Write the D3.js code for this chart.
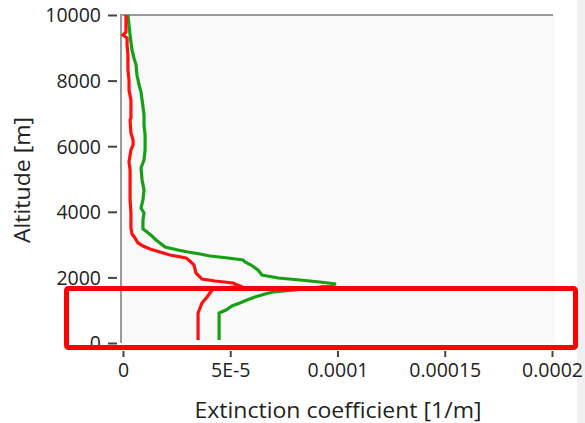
<!DOCTYPE html>
<html>
<head>
<meta charset="utf-8">
<script src="https://cdn.jsdelivr.net/npm/d3@7"></script>
<style>
  body { margin: 0; background: #fff; }
  svg { display: block; }
  text { font-family: "Open Sans", "Noto Sans", sans-serif; fill: #222; }
</style>
</head>
<body>
<svg id="chart" width="585" height="423"></svg>
<script>
// altitude [m] and extinction coefficient [1/m]
var redAlt = [90, 915, 1220, 1402, 1616, 1738, 1829, 1890, 1951, 2012, 2134, 2378, 2500, 2592, 2683,
    2775, 2866, 2958, 3049, 3201, 3323, 3506, 3964, 4360, 4817, 5275, 5519, 5884, 6037, 6189, 6403,
    6799, 6860, 7409, 7714, 8019, 8324, 8781, 9086, 9299, 9391, 9482, 10000];
var redExt = [3.50e-5, 3.50e-5, 3.68e-5, 3.92e-5, 4.15e-5, 5.45e-5, 5.13e-5, 4.29e-5, 3.68e-5, 3.59e-5,
    3.40e-5, 3.31e-5, 3.12e-5, 2.94e-5, 2.19e-5, 1.72e-5, 1.26e-5, 0.93e-5, 0.70e-5, 0.56e-5, 0.42e-5,
    0.37e-5, 0.37e-5, 0.33e-5, 0.33e-5, 0.33e-5, 0.28e-5, 0.37e-5, 0.47e-5, 0.47e-5, 0.37e-5, 0.33e-5,
    0.37e-5, 0.37e-5, 0.28e-5, 0.28e-5, 0.23e-5, 0.23e-5, 0.19e-5, 0.19e-5, 0.0, 0.14e-5, 0.14e-5];

var greenAlt = [90, 915, 1006, 1128, 1220, 1311, 1402, 1494, 1555, 1616, 1707, 1799, 1860, 1921, 1982,
    2073, 2226, 2378, 2470, 2531, 2592, 2653, 2714, 2775, 2836, 2927, 3049, 3140, 3262, 3384, 3476,
    3750, 3964, 4116, 4360, 4665, 4970, 5336, 5580, 5884, 6342, 6647, 6952, 7409, 7653, 7866, 8171,
    8476, 8690, 8934, 9178, 9391, 9696, 10000];
var greenExt = [4.48e-5, 4.48e-5, 4.80e-5, 5.08e-5, 5.45e-5, 5.78e-5, 6.15e-5, 6.62e-5, 6.99e-5, 8.02e-5,
    9.18e-5, 9.93e-5, 9.18e-5, 8.25e-5, 7.23e-5, 6.48e-5, 6.29e-5, 5.97e-5, 5.69e-5, 5.59e-5, 4.90e-5,
    4.06e-5, 3.59e-5, 3.03e-5, 2.56e-5, 1.96e-5, 1.72e-5, 1.54e-5, 1.35e-5, 1.12e-5, 0.93e-5, 0.93e-5,
    0.98e-5, 0.84e-5, 0.93e-5, 0.98e-5, 0.89e-5, 0.84e-5, 0.98e-5, 1.03e-5, 1.03e-5, 0.98e-5, 0.98e-5,
    0.89e-5, 0.84e-5, 0.75e-5, 0.65e-5, 0.61e-5, 0.51e-5, 0.42e-5, 0.37e-5, 0.33e-5, 0.28e-5, 0.23e-5];

var xTicks = [0, 5e-5, 1e-4, 1.5e-4, 2e-4];
var xTickLabels = ["0", "5E-5", "0.0001", "0.00015", "0.0002"];
var yTicks = [0, 2000, 4000, 6000, 8000, 10000];

var svg = d3.select('#chart');

var x = d3.scaleLinear().domain([0, 2e-4]).range([123, 552]),
    y = d3.scaleLinear().domain([0, 10000]).range([343, 15]);

// plot area
svg.append('rect')
    .attr('x', 121).attr('y', 15)
    .attr('width', 434).attr('height', 328)
    .attr('fill', '#f9f9f9');
// window edge on the right
svg.append('rect')
    .attr('x', 577).attr('y', 0)
    .attr('width', 8).attr('height', 423)
    .attr('fill', '#f0f0f0');

svg.append('line')
    .attr('x1', 121).attr('x2', 553).attr('y1', 15).attr('y2', 15)
    .attr('stroke', '#9a9a9a').attr('stroke-width', 2);
svg.append('line')
    .attr('x1', 121).attr('x2', 121).attr('y1', 14).attr('y2', 343)
    .attr('stroke', '#9a9a9a').attr('stroke-width', 2);

// y axis (ticks + labels, no domain line)
var yAxis = svg.append('g')
    .attr('transform', 'translate(117,0)')
    .call(d3.axisLeft(y).tickValues(yTicks).tickSize(9).tickPadding(7).tickFormat(d3.format('d')));
yAxis.select('.domain').remove();
yAxis.selectAll('.tick line').attr('stroke', '#444').attr('stroke-width', 2);
yAxis.selectAll('.tick text').attr('font-size', 19.5).attr('dy', '0.35em')
    .style('font-family', '"Open Sans", sans-serif').style('fill', '#222');

// x axis
var xAxis = svg.append('g')
    .attr('transform', 'translate(0,351)')
    .call(d3.axisBottom(x).tickValues(xTicks).tickSize(6).tickPadding(6)
        .tickFormat(function (d, i) { return xTickLabels[i]; }));
xAxis.select('.domain').remove();
xAxis.selectAll('.tick line').attr('stroke', '#444').attr('stroke-width', 2);
xAxis.selectAll('.tick text').attr('font-size', 19.5)
    .style('font-family', '"Open Sans", sans-serif').style('fill', '#222');

svg.append('text')
    .attr('x', 338).attr('y', 418)
    .attr('text-anchor', 'middle').attr('font-size', 22)
    .attr('textLength', 287).attr('lengthAdjust', 'spacingAndGlyphs')
    .text('Extinction coefficient [1/m]');
svg.append('text')
    .attr('transform', 'translate(30,180) rotate(-90)')
    .attr('text-anchor', 'middle').attr('font-size', 22)
    .attr('textLength', 126).attr('lengthAdjust', 'spacingAndGlyphs')
    .text('Altitude [m]');

var line = d3.line()
    .x(function (d) { return x(d[1]); })
    .y(function (d) { return y(d[0]); });

svg.append('path')
    .datum(d3.zip(greenAlt, greenExt))
    .attr('d', line)
    .attr('fill', 'none').attr('stroke', '#16a016').attr('stroke-width', 3.2)
    .attr('stroke-linejoin', 'miter');
svg.append('path')
    .datum(d3.zip(redAlt, redExt))
    .attr('d', line)
    .attr('fill', 'none').attr('stroke', '#ff1010').attr('stroke-width', 3.2)
    .attr('stroke-linejoin', 'miter');

// highlight box drawn over the lowest layer
svg.append('rect')
    .attr('x', 66.5).attr('y', 288.5)
    .attr('width', 509).attr('height', 59)
    .attr('rx', 2)
    .attr('fill', 'none').attr('stroke', '#ff0000').attr('stroke-width', 5);
</script>
</body>
</html>
